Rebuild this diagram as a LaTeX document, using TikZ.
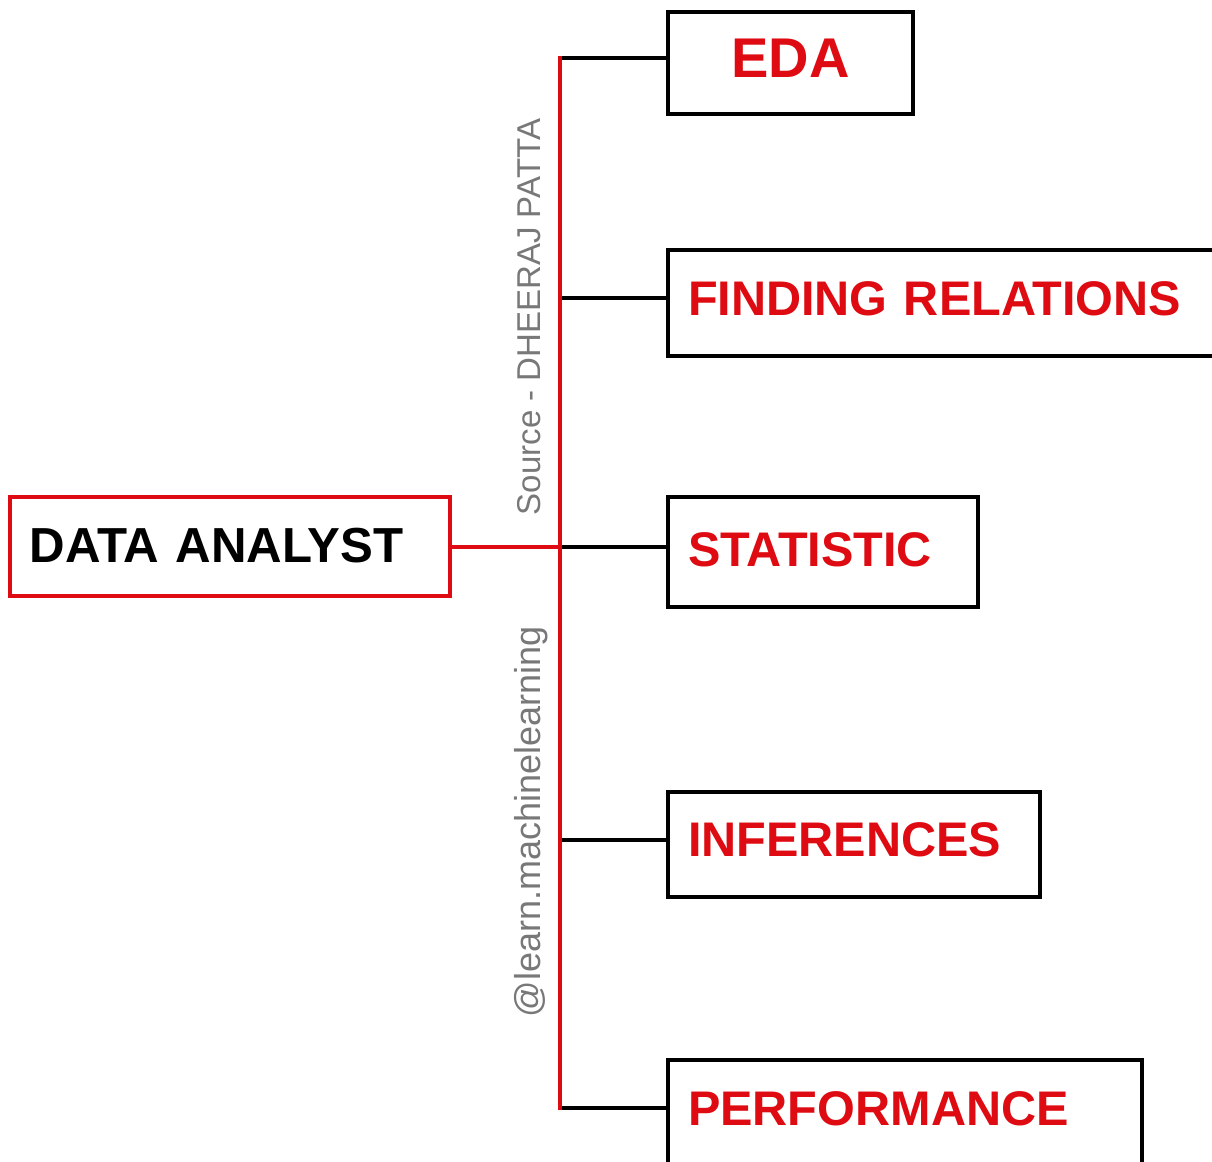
\documentclass[tikz,border=0pt]{standalone}
\usepackage{fontspec}
\setmainfont{Liberation Sans}
\definecolor{myred}{RGB}{222,12,18}
\definecolor{mygray}{RGB}{120,120,120}
\begin{document}
\begin{tikzpicture}[x=0.5pt,y=-0.5pt,
  itembox/.style={draw=black, line width=1.8pt, rectangle, inner xsep=10pt, inner ysep=0pt,
    font=\bfseries\fontsize{24.3}{28}\selectfont, text=myred, align=left, text height=17.4pt},
  rootbox/.style={draw=myred, line width=1.7pt, rectangle, inner xsep=10pt, inner ysep=0pt,
    font=\bfseries\fontsize{24.6}{28}\selectfont, text=black, align=left, text height=17.6pt},
  trunk/.style={draw=myred, line width=2.3pt},
  branch/.style={draw=black, line width=2.2pt},
  credit/.style={text=mygray, rotate=90, inner sep=0pt}
]
\useasboundingbox (0,0) rectangle (1212,1162);
\clip (0,0) rectangle (1212,1162);
\fill[white] (0,0) rectangle (1212,1162);

% boxes
\node[rootbox, minimum width=220pt, minimum height=49.5pt, text width=200pt, text depth=2pt] (da) at (230,546.5) {DATA ANALYST};
\node[itembox, minimum width=122.5pt, minimum height=51pt, align=center, font=\bfseries\fontsize{28}{32}\selectfont, text height=20pt, text depth=6pt] (eda) at (790.5,63) {EDA};
\node[itembox, minimum width=273.5pt, minimum height=53pt, text width=253.5pt, text depth=4.5pt] (fr) at (941.5,303) {FINDING RELATIONS};
\node[itembox, minimum width=155pt, minimum height=55pt, text width=135pt, text depth=3pt] (st) at (823,552) {STATISTIC};
\node[itembox, minimum width=186pt, minimum height=52.5pt, text width=166pt, text depth=5pt] (inf) at (854,844.5) {INFERENCES};
\node[itembox, minimum width=237pt, minimum height=60pt, text width=217pt, text depth=12pt] (perf) at (905,1120) {PERFORMANCE};

% trunk coordinates
\coordinate (t1) at (560,58);
\coordinate (t2) at (560,298);
\coordinate (t3) at (560,547);
\coordinate (t4) at (560,840);
\coordinate (t5) at (560,1108);

% branches
\draw[branch] (t1) -- (t1 -| eda.west);
\draw[branch] (t2) -- (t2 -| fr.west);
\draw[branch] (t3) -- (t3 -| st.west);
\draw[branch] (t4) -- (t4 -| inf.west);
\draw[branch] (t5) -- (t5 -| perf.west);

% trunk
\draw[trunk] (da.east |- t3) -- (t3);
\draw[trunk, line cap=rect] (t1) -- (t5);

% credits
\node[credit, anchor=base, font=\fontsize{16.5}{18}\selectfont] (src) at (540,317) {Source - DHEERAJ PATTA};
\node[credit, anchor=base, font=\fontsize{18}{20}\selectfont] (handle) at (540,822) {@learn.machinelearning};
\end{tikzpicture}
\end{document}
